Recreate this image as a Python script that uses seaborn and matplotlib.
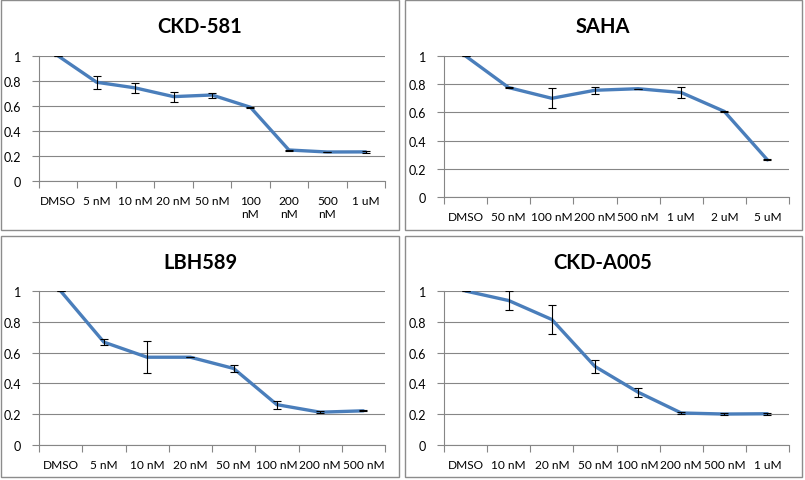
import matplotlib
matplotlib.use("Agg")
import matplotlib.pyplot as plt
from matplotlib.patches import Rectangle
from matplotlib.ticker import FixedLocator, FuncFormatter
import seaborn as sns
import pandas as pd

# --- data (relative viability) ---
ckd581_labels = ["DMSO", "5 nM", "10 nM", "20 nM", "50 nM", "100\nnM", "200\nnM", "500\nnM", "1 uM"]
ckd581_vals = [1.0, 0.79, 0.745, 0.675, 0.688, 0.59, 0.248, 0.232, 0.233]
ckd581_err = [0.002, 0.05, 0.04, 0.04, 0.02, 0.005, 0.004, 0.0, 0.006]

saha_labels = ["DMSO", "50 nM", "100 nM", "200 nM", "500 nM", "1 uM", "2 uM", "5 uM"]
saha_vals = [1.0, 0.776, 0.70, 0.757, 0.768, 0.741, 0.607, 0.263]
saha_err = [0.002, 0.004, 0.07, 0.024, 0.0, 0.04, 0.004, 0.004]

lbh589_labels = ["DMSO", "5 nM", "10 nM", "20 nM", "50 nM", "100 nM", "200 nM", "500 nM"]
lbh589_vals = [1.0, 0.668, 0.57, 0.57, 0.497, 0.262, 0.213, 0.222]
lbh589_err = [0.002, 0.018, 0.105, 0.0, 0.02, 0.025, 0.005, 0.003]

a005_labels = ["DMSO", "10 nM", "20 nM", "50 nM", "100 nM", "200 nM", "500 nM", "1 uM"]
a005_vals = [1.0, 0.938, 0.815, 0.51, 0.343, 0.208, 0.201, 0.203]
a005_err = [0.002, 0.062, 0.094, 0.045, 0.03, 0.008, 0.004, 0.008]

titles = ["CKD-581", "SAHA", "LBH589", "CKD-A005"]
y_ticks = [0, 0.2, 0.4, 0.6, 0.8, 1.0]

sns.set_theme(style="white")
plt.rcParams["font.family"] = ["Lato", "DejaVu Sans"]

W, H = 805, 481
fig = plt.figure(figsize=(W / 100, H / 100), dpi=100)
fig.patch.set_facecolor("white")

LINE = "#4A7EBB"
GRID = "#868686"


def frac_rect(x0, y0, x1, y1):
    # pixel box (top-left origin) -> figure fraction rect
    return [x0 / W, 1 - y1 / H, (x1 - x0) / W, (y1 - y0) / H]


# layout: panel box, plot area, title centre (pixels)
layout = [
    ((1, 1, 399, 231), (39, 57, 385, 182), (200, 27)),
    ((405, 1, 802, 231), (444, 57, 789, 198), (603, 27)),
    ((1, 237, 399, 478), (39, 292, 385, 446), (200, 263)),
    ((405, 237, 802, 478), (444, 292, 789, 446), (603, 263)),
]
panels = [
    (ckd581_labels, ckd581_vals, ckd581_err),
    (saha_labels, saha_vals, saha_err),
    (lbh589_labels, lbh589_vals, lbh589_err),
    (a005_labels, a005_vals, a005_err),
]

for (box, area, tpos), (labels, vals, errs), title in zip(layout, panels, titles):
    bx0, by0, bx1, by1 = box
    fig.add_artist(Rectangle((bx0 / W, 1 - by1 / H), (bx1 - bx0) / W, (by1 - by0) / H,
                             transform=fig.transFigure, fill=False,
                             edgecolor="#8C8C8C", linewidth=1.0))
    fig.text(tpos[0] / W, 1 - tpos[1] / H, title, ha="center", va="center",
             fontsize=14.5, fontweight="bold", color="black")

    ax = fig.add_axes(frac_rect(*area))
    n = len(labels)
    df = pd.DataFrame({"pos": range(n), "val": vals, "err": errs})

    sns.lineplot(data=df, x="pos", y="val", ax=ax, color=LINE, linewidth=2.4,
                 solid_joinstyle="miter", zorder=3)
    ax.errorbar(df["pos"], df["val"], yerr=df["err"], fmt="none", ecolor="black",
                elinewidth=0.8, capsize=3.2, capthick=0.8, zorder=4)

    ax.set_xlim(-0.5, n - 0.5)
    ax.set_ylim(0, 1)
    ax.set_xlabel("")
    ax.set_ylabel("")

    # category boundaries get tick marks, labels sit at centres
    ax.xaxis.set_major_locator(FixedLocator([i - 0.5 for i in range(n + 1)]))
    ax.xaxis.set_major_formatter(FuncFormatter(lambda v, p: ""))
    ax.xaxis.set_minor_locator(FixedLocator(list(range(n))))
    ax.set_xticklabels(labels, minor=True)
    ax.tick_params(axis="x", which="major", direction="out", length=5,
                   width=0.8, color=GRID, bottom=True)
    ax.tick_params(axis="x", which="minor", length=0, pad=10, labelsize=8.6,
                   labelcolor="black")
    for t in ax.get_xticklabels(minor=True):
        t.set_multialignment("center")
        t.set_linespacing(1.25)

    ax.set_yticks(y_ticks)
    ax.yaxis.set_major_formatter(FuncFormatter(lambda v, p: f"{v:g}"))
    ax.tick_params(axis="y", direction="out", length=5, width=0.8, color=GRID,
                   left=True, pad=8, labelsize=9, labelcolor="black")

    ax.yaxis.grid(True, color=GRID, linewidth=0.8)
    ax.xaxis.grid(False)
    ax.set_axisbelow(True)
    for s in ("top", "right"):
        ax.spines[s].set_visible(False)
    for s in ("left", "bottom"):
        ax.spines[s].set_color(GRID)
        ax.spines[s].set_linewidth(0.8)
    ax.set_facecolor("white")

fig.savefig("out.png", dpi=100, facecolor="white")
